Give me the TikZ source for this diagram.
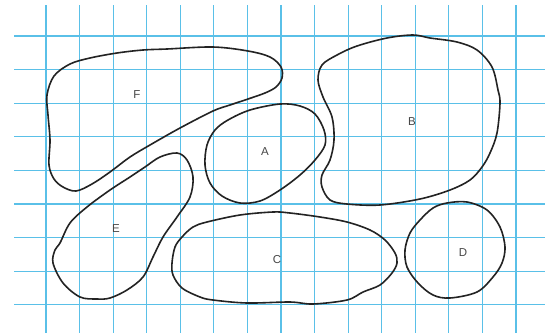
\documentclass[tikz,border=0pt]{standalone}
\usepackage{fontspec}
\setsansfont{Liberation Sans}
\definecolor{gridblue}{RGB}{90,192,232}
\definecolor{inkgrey}{RGB}{35,35,35}
\tikzset{
  gridline/.style={draw=gridblue, line width=1.1pt},
  blob/.style={draw=inkgrey, line width=1.6pt, line join=round},
  lbl/.style={font=\sffamily\fontsize{11.5}{13}\selectfont, text=black!72, inner sep=0pt}
}
\begin{document}
\begin{tikzpicture}[x=1pt,y=-1pt]
\useasboundingbox (0,0) rectangle (553,333);
\fill[white] (0,0) rectangle (553,333);
% grid
\foreach \k in {0,...,14} { \draw[gridline] ({46+33.57*\k},5) -- ({46+33.57*\k},333); }
\foreach \k in {0,...,8} { \draw[gridline] (14,{36+33.6*\k}) -- (545,{36+33.6*\k}); }
% F
\draw[blob] plot[smooth cycle, tension=0.55] coordinates {
 (47,95) (54,76) (70,64) (90,58) (117,53) (143,50) (167,49) (213,47) (248,51)
 (270,57) (281,67) (282,78) (276,87) (265,93) (248,99) (230,105) (213,111) (180,128)
 (150,145) (130,157) (110,172) (92,184) (76,191) (63,187) (54,179) (49,165) (50,140) (48,115)};
% A
\draw[blob] plot[smooth cycle, tension=0.55] coordinates {
 (205,165) (207,145) (215,130) (228,120) (250,110) (280,104) (300,106) (315,114) (324,130)
 (325,145) (315,160) (300,175) (280,190) (260,201) (240,203) (222,196) (210,183)};
% B
\draw[blob] plot[smooth cycle, tension=0.55] coordinates {
 (318,80) (322,65) (337,55) (357,46) (387,38) (413,35) (430,38) (457,42) (477,50) (492,67)
 (498,90) (500,103) (497,133) (490,153) (482,167) (470,180) (450,190) (420,199) (380,205)
 (347,204) (330,200) (322,187) (322,175) (330,160) (334,140) (332,117) (323,97)};
% C
\draw[blob] plot[smooth cycle, tension=0.55] coordinates {
 (172,263) (175,247) (182,237) (193,227) (207,222) (240,215) (273,212) (290,213) (320,217)
 (347,222) (370,230) (385,240) (395,253) (397,263) (392,273) (380,285) (363,292) (347,300)
 (313,304) (290,302) (247,303) (213,300) (200,297) (182,288) (173,275)};
% D
\draw[blob] plot[smooth cycle, tension=0.55] coordinates {
 (433,208) (447,203) (467,202) (487,210) (500,227) (505,247) (502,263) (493,277) (477,292)
 (450,298) (433,295) (418,283) (407,267) (405,250) (410,233) (420,220)};
% E
\draw[blob] plot[smooth cycle, tension=0.55] coordinates {
 (145,167) (160,157) (177,153) (187,160) (193,177) (190,197) (177,217) (163,237) (153,257)
 (143,277) (127,290) (110,298) (97,299) (80,297) (63,283) (53,263) (55,250) (60,243)
 (70,223) (87,207) (110,190) (130,177)};
% labels
\node[lbl] (lF) at (137,95) {F};
\node[lbl] (lA) at (265,152) {A};
\node[lbl] (lB) at (412,122) {B};
\node[lbl] (lC) at (277,260) {C};
\node[lbl] (lD) at (463,253) {D};
\node[lbl] (lE) at (116,229) {E};
\end{tikzpicture}
\end{document}
